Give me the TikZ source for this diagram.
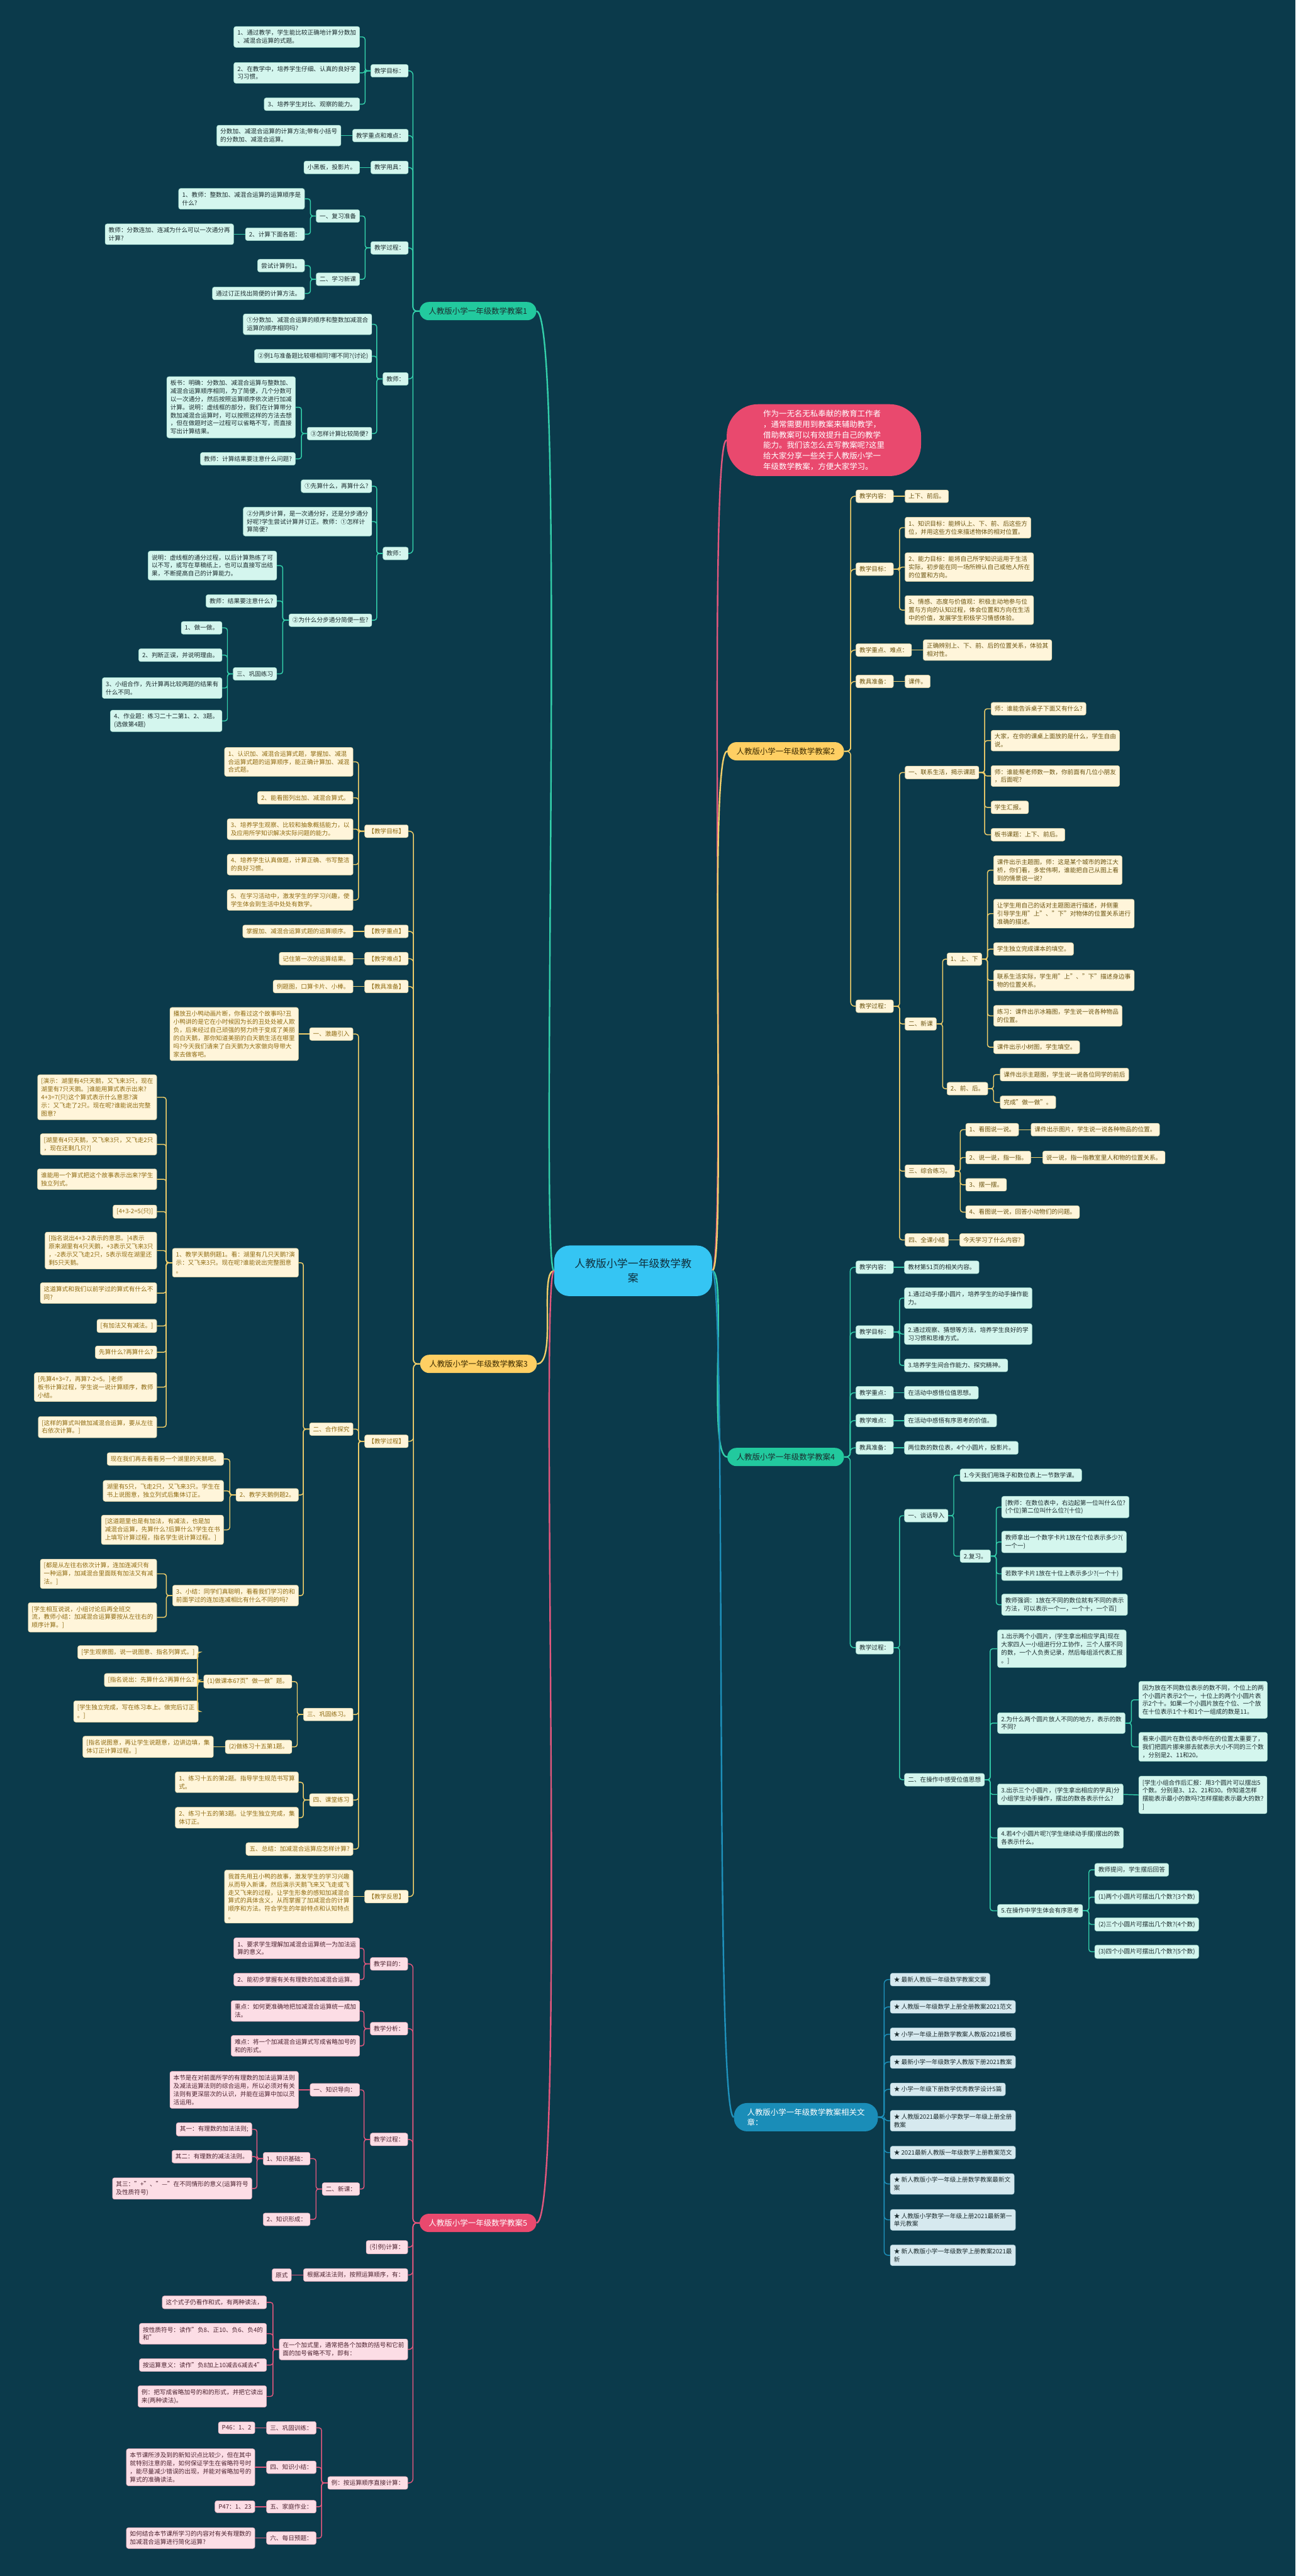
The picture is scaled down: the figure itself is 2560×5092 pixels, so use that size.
\documentclass[tikz,border=0pt]{standalone}
\usepackage{fontspec}
\setmainfont{Noto Sans CJK SC}
\definecolor{bgcol}{HTML}{0B3A4B}
\definecolor{tealline}{HTML}{33CFAA}
\definecolor{tealmain}{HTML}{22C99E}
\definecolor{mint}{HTML}{D4F6EE}
\definecolor{mintedge}{HTML}{9FDCCB}
\definecolor{inkdark}{HTML}{1B2B2E}
\definecolor{yellowline}{HTML}{F0CE6A}
\definecolor{yellowmain}{HTML}{FFCF63}
\definecolor{brownmain}{HTML}{3B2A00}
\definecolor{cream}{HTML}{FFF5DA}
\definecolor{creamedge}{HTML}{E6D39E}
\definecolor{goldtext}{HTML}{8F6B12}
\definecolor{browntext}{HTML}{6B5410}
\definecolor{pinkline}{HTML}{E2577D}
\definecolor{pinkmain}{HTML}{E9496E}
\definecolor{blush}{HTML}{FCDDE5}
\definecolor{blushedge}{HTML}{E8A6B6}
\definecolor{plumtext}{HTML}{4D2330}
\definecolor{blueline}{HTML}{1E90BA}
\definecolor{bluemain}{HTML}{1A8DB8}
\definecolor{ice}{HTML}{D6E9EF}
\definecolor{iceedge}{HTML}{A7CAD6}
\definecolor{hubfill}{HTML}{35C5F3}
\definecolor{hubtext}{HTML}{0F2F3D}
\begin{document}
\begin{tikzpicture}[x=1pt, y=-1pt,
    box/.style={rounded corners=4pt, inner xsep=7pt, inner ysep=7pt, align=left,
                line width=0.6pt, font=\fontsize{12}{16}\selectfont},
    tl/.style={box, fill=mint, draw=mintedge, text=inkdark, anchor=east},
    tr/.style={box, fill=mint, draw=mintedge, text=inkdark, anchor=west},
    yl/.style={box, fill=cream, draw=creamedge, text=goldtext, anchor=east},
    yr/.style={box, fill=cream, draw=creamedge, text=browntext, anchor=west},
    pl/.style={box, fill=blush, draw=blushedge, text=plumtext, anchor=east},
    br/.style={box, fill=ice, draw=iceedge, text=inkdark, anchor=west},
    mainnode/.style={rounded corners=18pt, minimum height=36pt, inner xsep=18pt,
                     font=\fontsize{15.5}{20}\selectfont},
    tmain/.style={mainnode, fill=tealmain, text=inkdark},
    ymain/.style={mainnode, fill=yellowmain, text=brownmain},
    pmain/.style={mainnode, fill=pinkmain, text=white},
    bmain/.style={mainnode, fill=bluemain, text=white, align=left, inner xsep=26pt,
                  rounded corners=26pt, minimum height=56pt},
    tline/.style={draw=tealline, line width=1.8pt, rounded corners=5pt},
    yline/.style={draw=yellowline, line width=1.8pt, rounded corners=5pt},
    pline/.style={draw=pinkline, line width=1.8pt, rounded corners=5pt},
    bline/.style={draw=blueline, line width=1.8pt, rounded corners=5pt},
    hubline/.style={line width=3pt},
  ]
  \fill[bgcol] (0,0) rectangle (2560,5092);
  \useasboundingbox (0,0) rectangle (2560,5092);

  % centre and intro
  \node[fill=hubfill, text=hubtext, rounded corners=30pt, minimum width=312pt,
        minimum height=100pt, align=center, font=\fontsize{21}{28}\selectfont]
        (hub) at (1251,2512) {人教版小学一年级数学教\\案};
  \node[fill=pinkmain, text=white, rounded corners=62pt, minimum width=384pt,
        minimum height=142pt, align=left, font=\fontsize{15.5}{21}\selectfont]
        (intro) at (1628,870) {作为一无名无私奉献的教育工作者\\，通常需要用到教案来辅助教学，\\借助教案可以有效提升自己的教学\\能力。我们该怎么去写教案呢?这里\\给大家分享一些关于人教版小学一\\年级数学教案，方便大家学习。};

  % ---------- 教案1 (left, teal) ----------
  \node[tmain, anchor=west] (b1) at (829,615) {人教版小学一年级数学教案1};
  \node[tl] (a1) at (807,140) {教学目标：};
  \node[tl] (a1x1) at (711,73) {1、通过教学，学生能比较正确地计算分数加\\、减混合运算的式题。};
  \node[tl] (a1x2) at (711,144) {2、在教学中，培养学生仔细、认真的良好学\\习习惯。};
  \node[tl] (a1x3) at (711,206) {3、培养学生对比、观察的能力。};
  \node[tl] (a2) at (807,268) {教学重点和难点：};
  \node[tl] (a2x1) at (674,268) {分数加、减混合运算的计算方法;带有小括号\\的分数加、减混合运算。};
  \node[tl] (a3) at (807,331) {教学用具：};
  \node[tl] (a3x1) at (711,331) {小黑板，投影片。};
  \node[tl] (a4) at (807,490) {教学过程：};
  \node[tl] (a4x1) at (711,427) {一、复习准备};
  \node[tl] (a4x1a) at (602,393) {1、教师：整数加、减混合运算的运算顺序是\\什么?};
  \node[tl] (a4x1b) at (602,463) {2、计算下面各题：};
  \node[tl] (a4x1b1) at (462,463) {教师：分数连加、连减为什么可以一次通分再\\计算?};
  \node[tl] (a4x2) at (711,552) {二、学习新课};
  \node[tl] (a4x2a) at (602,525) {尝试计算例1。};
  \node[tl] (a4x2b) at (602,580) {通过订正找出简便的计算方法。};
  \node[tl] (a5) at (807,749) {教师：};
  \node[tl] (a5x1) at (735,641) {①分数加、减混合运算的顺序和整数加减混合\\运算的顺序相同吗?};
  \node[tl] (a5x2) at (735,704) {②例1与准备题比较哪相同?哪不同?(讨论)};
  \node[tl] (a5x3) at (735,857) {③怎样计算比较简便?};
  \node[tl] (a5x3a) at (584,805) {板书：明确：分数加、减混合运算与整数加、\\减混合运算顺序相同，为了简便，几个分数可\\以一次通分，然后按照运算顺序依次进行加减\\计算。说明：虚线框的部分，我们在计算带分\\数加减混合运算时，可以按照这样的方法去想\\，但在做题时这一过程可以省略不写，而直接\\写出计算结果。};
  \node[tl] (a5x3b) at (584,907) {教师：计算结果要注意什么问题?};
  \node[tl] (a6) at (807,1094) {教师：};
  \node[tl] (a6x1) at (735,961) {①先算什么，再算什么?};
  \node[tl] (a6x2) at (735,1031) {②分两步计算，是一次通分好，还是分步通分\\好呢?学生尝试计算并订正。教师：①怎样计\\算简便?};
  \node[tl] (a6x3) at (735,1226) {②为什么分步通分简便一些?};
  \node[tl] (a6x3a) at (547,1118) {说明：虚线框的通分过程，以后计算熟练了可\\以不写，或写在草稿纸上，也可以直接写出结\\果，不断提高自己的计算能力。};
  \node[tl] (a6x3b) at (547,1188) {教师：结果要注意什么?};
  \node[tl] (a6x3c) at (547,1332) {三、巩固练习};
  \node[tl] (a6x3c1) at (439,1241) {1、做一做。};
  \node[tl] (a6x3c2) at (439,1295) {2、判断正误，并说明理由。};
  \node[tl] (a6x3c3) at (439,1360) {3、小组合作，先计算再比较两题的结果有\\什么不同。};
  \node[tl] (a6x3c4) at (439,1425) {4、作业题：练习二十二第1、2、3题。\\(选做第4题)};

  % ---------- 教案3 (left, yellow) ----------
  \node[ymain, anchor=west] (b3) at (830,2696) {人教版小学一年级数学教案3};
  \node[yl] (c1) at (807,1643) {【教学目标】};
  \node[yl] (c1x1) at (698,1506) {1、认识加、减混合运算式题，掌握加、减混\\合运算式题的运算顺序，能正确计算加、减混\\合式题。};
  \node[yl] (c1x2) at (698,1577) {2、能看图列出加、减混合算式。};
  \node[yl] (c1x3) at (698,1639) {3、培养学生观察、比较和抽象概括能力，以\\及应用所学知识解决实际问题的能力。};
  \node[yl] (c1x4) at (698,1709) {4、培养学生认真做题，计算正确、书写整洁\\的良好习惯。};
  \node[yl] (c1x5) at (698,1779) {5、在学习活动中，激发学生的学习兴趣，使\\学生体会到生活中处处有数学。};
  \node[yl] (c2) at (807,1841) {【教学重点】};
  \node[yl] (c2x1) at (698,1841) {掌握加、减混合运算式题的运算顺序。};
  \node[yl] (c3) at (807,1895) {【教学难点】};
  \node[yl] (c3x1) at (698,1895) {记住第一次的运算结果。};
  \node[yl] (c4) at (807,1950) {【教具准备】};
  \node[yl] (c4x1) at (698,1950) {例题图，口算卡片、小棒。};
  \node[yl] (c5) at (807,2849) {【教学过程】};
  \node[yl] (c5x1) at (698,2044) {一、激趣引入};
  \node[yl] (c5x1a) at (590,2044) {播放丑小鸭动画片断，你看过这个故事吗?丑\\小鸭讲的是它在小时候因为长的丑处处被人欺\\负，后来经过自己顽强的努力终于变成了美丽\\的白天鹅，那你知道美丽的白天鹅生活在哪里\\吗?今天我们请来了白天鹅为大家做向导带大\\家去做客吧。};
  \node[yl] (c5x2) at (698,2825) {二、合作探究};
  \node[yl] (c5x2a) at (590,2496) {1、教学天鹅例题1。看：湖里有几只天鹅?演\\示：又飞来3只。现在呢?谁能说出完整图意\\。};
  \node[yl] (l1) at (310,2169) {[演示：湖里有4只天鹅，又飞来3只，现在\\湖里有7只天鹅。]谁能用算式表示出来?\\4+3=7(只)这个算式表示什么意思?演\\示：又飞走了2只。现在呢?谁能说出完整\\图意?};
  \node[yl] (l2) at (310,2262) {[湖里有4只天鹅，又飞来3只，又飞走2只\\，现在还剩几只?]};
  \node[yl] (l3) at (310,2331) {谁能用一个算式把这个故事表示出来?学生\\独立列式。};
  \node[yl] (l4) at (310,2395) {[4+3-2=5(只)]};
  \node[yl] (l5) at (310,2472) {[指名说出4+3-2表示的意思。]4表示\\原来湖里有4只天鹅，+3表示又飞来3只\\，-2表示又飞走2只，5表示现在湖里还\\剩5只天鹅。};
  \node[yl] (l6) at (310,2556) {这道算式和我们以前学过的算式有什么不\\同?};
  \node[yl] (l7) at (310,2621) {[有加法又有减法。]};
  \node[yl] (l8) at (310,2673) {先算什么?再算什么?};
  \node[yl] (l9) at (310,2742) {[先算4+3=7，再算7-2=5。]老师\\板书计算过程，学生说一说计算顺序，教师\\小结。};
  \node[yl] (l10) at (310,2821) {[这样的算式叫做加减混合运算，要从左往\\右依次计算。]};
  \node[yl] (c5x2b) at (590,2955) {2、教学天鹅例题2。};
  \node[yl] (m1) at (442,2884) {现在我们再去看看另一个湖里的天鹅吧。};
  \node[yl] (m2) at (442,2947) {湖里有5只，飞走2只，又飞来3只。学生在\\书上说图意，独立列式后集体订正。};
  \node[yl] (m3) at (442,3024) {[这道题里也是有加法，有减法，也是加\\减混合运算，先算什么?后算什么?学生在书\\上填写计算过程，指名学生说计算过程。]};
  \node[yl] (c5x2c) at (590,3154) {3、小结：同学们真聪明，看看我们学习的和\\前面学过的连加连减相比有什么不同的吗?};
  \node[yl] (n1) at (310,3111) {[都是从左往右依次计算，连加连减只有\\一种运算，加减混合里面既有加法又有减\\法。]};
  \node[yl] (n2) at (310,3197) {[学生相互说说，小组讨论后再全班交\\流，教师小结：加减混合运算要按从左往右的\\顺序计算。]};
  \node[yl] (c5x3) at (698,3389) {三、巩固练习。};
  \node[yl] (c5x3a) at (577,3324) {(1)做课本67页"做一做"题。};
  \node[yl] (p1) at (392,3266) {[学生观察图，说一说图意、指名列算式。]};
  \node[yl] (p2) at (392,3321) {[指名说出：先算什么?再算什么?};
  \node[yl] (p3) at (392,3383) {[学生独立完成，写在练习本上。做完后订正\\。]};
  \node[yl] (c5x3b) at (577,3453) {(2)做练习十五第1题。};
  \node[yl] (q1) at (422,3453) {[指名说图意，再让学生说题意，边讲边填，集\\体订正计算过程。]};
  \node[yl] (c5x4) at (698,3558) {四、课堂练习};
  \node[yl] (c5x4a) at (590,3523) {1、练习十五的第2题。指导学生规范书写算\\式。};
  \node[yl] (c5x4b) at (590,3593) {2、练习十五的第3题。让学生独立完成，集\\体订正。};
  \node[yl] (c5x5) at (698,3655) {五、总结：加减混合运算应怎样计算?};
  \node[yl] (c6) at (807,3749) {【教学反思】};
  \node[yl] (c6x1) at (698,3749) {我首先用丑小鸭的故事，激发学生的学习兴趣\\从而导入新课，然后演示天鹅飞来又飞走或飞\\走又飞来的过程，让学生形象的感知加减混合\\算式的具体含义，从而掌握了加减混合的计算\\顺序和方法。符合学生的年龄特点和认知特点\\。};

  % ---------- 教案5 (left, pink) ----------
  \node[pmain, anchor=west] (b5) at (829,4394) {人教版小学一年级数学教案5};
  \node[pl] (d1) at (806,3882) {教学目的：};
  \node[pl] (d1x1) at (711,3851) {1、要求学生理解加减混合运算统一为加法运\\算的意义。};
  \node[pl] (d1x2) at (711,3913) {2、能初步掌握有关有理数的加减混合运算。};
  \node[pl] (d2) at (806,4010) {教学分析：};
  \node[pl] (d2x1) at (711,3975) {重点：如何更准确地把加减混合运算统一成加\\法。};
  \node[pl] (d2x2) at (711,4044) {难点：将一个加减混合运算式写成省略加号的\\和的形式。};
  \node[pl] (d3) at (806,4229) {教学过程：};
  \node[pl] (d3x1) at (711,4131) {一、知识导向：};
  \node[pl] (d3x1a) at (590,4131) {本节是在对前面所学的有理数的加法运算法则\\及减法运算法则的综合运用，所以必须对有关\\法则有更深层次的认识，并能在运算中加以灵\\活运用。};
  \node[pl] (d3x2) at (711,4327) {二、新课：};
  \node[pl] (d3x2a) at (613,4267) {1、知识基础：};
  \node[pl] (d3x2a1) at (498,4209) {其一：有理数的加法法则;};
  \node[pl] (d3x2a2) at (498,4263) {其二：有理数的减法法则。};
  \node[pl] (d3x2a3) at (498,4326) {其三："+"、"—"在不同情形的意义(运算符号\\及性质符号)};
  \node[pl] (d3x2b) at (613,4387) {2、知识形成：};
  \node[pl] (d4) at (806,4442) {(引例)计算：};
  \node[pl] (d5) at (806,4497) {根据减法法则，按照运算顺序，有：};
  \node[pl] (d5x1) at (576,4497) {原式};
  \node[pl] (d6) at (806,4644) {在一个加式里，通常把各个加数的括号和它前\\面的加号省略不写，即有：};
  \node[pl] (d6x1) at (527,4551) {这个式子仍看作和式，有两种读法，};
  \node[pl] (d6x2) at (527,4613) {按性质符号：读作"负8、正10、负6、负4的\\和"};
  \node[pl] (d6x3) at (527,4675) {按运算意义：读作"负8加上10减去6减去4"};
  \node[pl] (d6x4) at (527,4737) {例：把写成省略加号的和的形式，并把它读出\\来(两种读法)。};
  \node[pl] (d7) at (806,4908) {例：按运算顺序直接计算：};
  \node[pl] (d7x1) at (625,4799) {三、巩固训练：};
  \node[pl] (d7x1a) at (504,4799) {P46：1、2};
  \node[pl] (d7x2) at (625,4877) {四、知识小结：};
  \node[pl] (d7x2a) at (504,4877) {本节课所涉及到的新知识点比较少，但在其中\\就特别注意的是，如何保证学生在省略符号时\\，能尽量减少错误的出现，并能对省略加号的\\算式的准确读法。};
  \node[pl] (d7x3) at (625,4955) {五、家庭作业：};
  \node[pl] (d7x3a) at (504,4955) {P47：1、23};
  \node[pl] (d7x4) at (625,5017) {六、每日预题：};
  \node[pl] (d7x4a) at (504,5017) {如何结合本节课所学习的内容对有关有理数的\\加减混合运算进行简化运算?};

  % ---------- 教案2 (right, yellow) ----------
  \node[ymain, anchor=east] (b2) at (1668,1485) {人教版小学一年级数学教案2};
  \node[yr] (e1) at (1691,981) {教学内容：};
  \node[yr] (e1x1) at (1788,981) {上下、前后。};
  \node[yr] (e2) at (1691,1125) {教学目标：};
  \node[yr] (e2x1) at (1788,1043) {1、知识目标：能辨认上、下、前、后这些方\\位，并用这些方位来描述物体的相对位置。};
  \node[yr] (e2x2) at (1788,1121) {2、能力目标：能将自己所学知识运用于生活\\实际，初步能在同一场所辨认自己或他人所在\\的位置和方向。};
  \node[yr] (e2x3) at (1788,1206) {3、情感、态度与价值观：积极主动地参与位\\置与方向的认知过程，体会位置和方向在生活\\中的价值，发展学生积极学习情感体验。};
  \node[yr] (e3) at (1691,1285) {教学重点、难点：};
  \node[yr] (e3x1) at (1824,1285) {正确辨别上、下、前、后的位置关系，体验其\\相对性。};
  \node[yr] (e4) at (1691,1347) {教具准备：};
  \node[yr] (e4x1) at (1788,1347) {课件。};
  \node[yr] (e5) at (1691,1989) {教学过程：};
  \node[yr] (e5x1) at (1788,1527) {一、联系生活，揭示课题};
  \node[yr] (e5x1a) at (1958,1401) {师：谁能告诉桌子下面又有什么?};
  \node[yr] (e5x1b) at (1958,1464) {大家，在你的课桌上面放的是什么，学生自由\\说。};
  \node[yr] (e5x1c) at (1958,1534) {师：谁能帮老师数一数，你前面有几位小朋友\\，后面呢?};
  \node[yr] (e5x1d) at (1958,1596) {学生汇报。};
  \node[yr] (e5x1e) at (1958,1650) {板书课题：上下、前后。};
  \node[yr] (e5x2) at (1788,2024) {二、新课};
  \node[yr] (e5x2a) at (1871,1896) {1、上、下};
  \node[yr] (e5x2a1) at (1963,1720) {课件出示主题图，师：这是某个城市的跨江大\\桥，你们看，多宏伟啊，谁能把自己从图上看\\到的情景说一说?};
  \node[yr] (e5x2a2) at (1963,1806) {让学生用自己的话对主题图进行描述，并侧重\\引导学生用"上"、"下"对物体的位置关系进行\\准确的描述。};
  \node[yr] (e5x2a3) at (1963,1876) {学生独立完成课本的填空。};
  \node[yr] (e5x2a4) at (1963,1938) {联系生活实际，学生用"上"、"下"描述身边事\\物的位置关系。};
  \node[yr] (e5x2a5) at (1963,2008) {练习：课件出示冰箱图，学生说一说各种物品\\的位置。};
  \node[yr] (e5x2a6) at (1963,2070) {课件出示小树图，学生填空。};
  \node[yr] (e5x2b) at (1871,2152) {2、前、后。};
  \node[yr] (e5x2b1) at (1976,2124) {课件出示主题图，学生说一说各位同学的前后};
  \node[yr] (e5x2b2) at (1976,2179) {完成"做一做"。};
  \node[yr] (e5x3) at (1788,2315) {三、综合练习。};
  \node[yr] (e5x3a) at (1908,2233) {1、看图说一说。};
  \node[yr] (e5x3a1) at (2037,2233) {课件出示图片，学生说一说各种物品的位置。};
  \node[yr] (e5x3b) at (1908,2288) {2、说一说，指一指。};
  \node[yr] (e5x3b1) at (2060,2288) {说一说，指一指教室里人和物的位置关系。};
  \node[yr] (e5x3c) at (1908,2342) {3、摆一摆。};
  \node[yr] (e5x3d) at (1908,2396) {4、看图说一说，回答小动物们的问题。};
  \node[yr] (e5x4) at (1788,2451) {四、全课小结};
  \node[yr] (e5x4a) at (1896,2451) {今天学习了什么内容?};

  % ---------- 教案4 (right, teal) ----------
  \node[tmain, anchor=east] (b4) at (1668,2880) {人教版小学一年级数学教案4};
  \node[tr] (f1) at (1691,2505) {教学内容：};
  \node[tr] (f1x1) at (1787,2505) {教材第51页的相关内容。};
  \node[tr] (f2) at (1691,2633) {教学目标：};
  \node[tr] (f2x1) at (1787,2566) {1.通过动手摆小圆片，培养学生的动手操作能\\力。};
  \node[tr] (f2x2) at (1787,2637) {2.通过观察、猜想等方法，培养学生良好的学\\习习惯和思维方式。};
  \node[tr] (f2x3) at (1787,2699) {3.培养学生间合作能力、探究精神。};
  \node[tr] (f3) at (1691,2753) {教学重点：};
  \node[tr] (f3x1) at (1787,2753) {在活动中感悟位值思想。};
  \node[tr] (f4) at (1691,2808) {教学难点：};
  \node[tr] (f4x1) at (1787,2808) {在活动中感悟有序思考的价值。};
  \node[tr] (f5) at (1691,2862) {教具准备：};
  \node[tr] (f5x1) at (1787,2862) {两位数的数位表，4个小圆片，投影片。};
  \node[tr] (f6) at (1691,3257) {教学过程：};
  \node[tr] (f6x1) at (1787,2996) {一、谈话导入};
  \node[tr] (f6x1a) at (1897,2916) {1.今天我们用珠子和数位表上一节数学课。};
  \node[tr] (f6x1b) at (1897,3076) {2.复习。};
  \node[tr] (f6x1b1) at (1979,2979) {[教师：在数位表中，右边起第一位叫什么位?\\(个位)第二位叫什么位?(十位)};
  \node[tr] (f6x1b2) at (1979,3048) {教师拿出一个数字卡片1放在个位表示多少?(\\一个一)};
  \node[tr] (f6x1b3) at (1979,3111) {若数字卡片1放在十位上表示多少?(一个十)};
  \node[tr] (f6x1b4) at (1979,3172) {教师强调：1放在不同的数位就有不同的表示\\方法，可以表示一个一，一个十，一个百]};
  \node[tr] (f6x2) at (1787,3518) {二、在操作中感受位值思想};
  \node[tr] (f6x2a) at (1971,3259) {1.出示两个小圆片，(学生拿出相应学具)现在\\大家四人一小组进行分工协作，三个人摆不同\\的数，一个人负责记录，然后每组派代表汇报\\。]};
  \node[tr] (f6x2b) at (1971,3406) {2.为什么两个圆片放人不同的地方，表示的数\\不同?};
  \node[tr] (f6x2b1) at (2250,3360) {因为放在不同数位表示的数不同，个位上的两\\个小圆片表示2个一，十位上的两个小圆片表\\示2个十。如果一个小圆片放在个位、一个放\\在十位表示1个十和1个一组成的数是11。};
  \node[tr] (f6x2b2) at (2250,3453) {看来小圆片在数位表中所在的位置太重要了，\\我们把圆片挪来挪去就表示大小不同的三个数\\，分别是2、11和20。};
  \node[tr] (f6x2c) at (1971,3547) {3.出示三个小圆片，(学生拿出相应的学具)分\\小组学生动手操作，摆出的数各表示什么?};
  \node[tr] (f6x2c1) at (2250,3548) {[学生小组合作后汇报：用3个圆片可以摆出5\\个数。分别是3、12、21和30。你知道怎样\\摆能表示最小的数吗?怎样摆能表示最大的数?\\]};
  \node[tr] (f6x2d) at (1971,3633) {4.若4个小圆片呢?(学生继续动手摆)摆出的数\\各表示什么。};
  \node[tr] (f6x2e) at (1971,3777) {5.在操作中学生体会有序思考};
  \node[tr] (f6x2e1) at (2163,3696) {教师提问，学生摆后回答};
  \node[tr] (f6x2e2) at (2163,3750) {(1)两个小圆片可摆出几个数?(3个数)};
  \node[tr] (f6x2e3) at (2163,3804) {(2)三个小圆片可摆出几个数?(4个数)};
  \node[tr] (f6x2e4) at (2163,3858) {(3)四个小圆片可摆出几个数?(5个数)};

  % ---------- related articles (right, blue) ----------
  \node[bmain, anchor=east] (rel) at (1735,4185) {人教版小学一年级数学教案相关文\\章：};
  \node[br] (g1) at (1759,3913) {★ 最新人教版一年级数学教案文案};
  \node[br] (g2) at (1759,3967) {★ 人教版一年级数学上册全册教案2021范文};
  \node[br] (g3) at (1759,4021) {★ 小学一年级上册数学教案人教版2021模板};
  \node[br] (g4) at (1759,4076) {★ 最新小学一年级数学人教版下册2021教案};
  \node[br] (g5) at (1759,4130) {★ 小学一年级下册数学优秀教学设计5篇};
  \node[br] (g6) at (1759,4192) {★ 人教版2021最新小学数学一年级上册全册\\教案};
  \node[br] (g7) at (1759,4255) {★ 2021最新人教版一年级数学上册教案范文};
  \node[br] (g8) at (1759,4317) {★ 新人教版小学一年级上册数学教案最新文\\案};
  \node[br] (g9) at (1759,4388) {★ 人教版小学数学一年级上册2021最新第一\\单元教案};
  \node[br] (g10) at (1759,4458) {★ 新人教版小学一年级数学上册教案2021最\\新};

  % ---------- connectors from the centre ----------
  \draw[hubline, tealline] (hub.west) .. controls +(-30,0) and +(60,0) .. (b1.east);
  \draw[hubline, yellowline] (hub.west) .. controls +(-30,0) and +(40,0) .. (b3.east);
  \draw[hubline, pinkline] (hub.west) .. controls +(-30,0) and +(60,0) .. (b5.east);
  \draw[hubline, pinkline] (hub.east) .. controls +(30,0) and +(-40,0) .. (intro.west);
  \draw[hubline, yellowline] (hub.east) .. controls +(30,0) and +(-40,0) .. (b2.west);
  \draw[hubline, tealline] (hub.east) .. controls +(30,0) and +(-40,0) .. (b4.west);
  \draw[hubline, blueline] (hub.east) .. controls +(30,0) and +(-40,0) .. (rel.west);

  % ---------- connectors, 教案1 ----------
  \foreach \k in {a1,a2,a3,a4,a5,a6}
    \draw[tline, rounded corners=8pt] (b1.west) -- ++(-13,0) |- (\k.east);
  \foreach \k in {a1x1,a1x2,a1x3}
    \draw[tline] (a1.west) -- ++(-11,0) |- (\k.east);
  \draw[tline] (a2.west) -- (a2x1.east);
  \draw[tline] (a3.west) -- (a3x1.east);
  \foreach \k in {a4x1,a4x2}
    \draw[tline] (a4.west) -- ++(-11,0) |- (\k.east);
  \foreach \k in {a4x1a,a4x1b}
    \draw[tline] (a4x1.west) -- ++(-11,0) |- (\k.east);
  \draw[tline] (a4x1b.west) -- (a4x1b1.east);
  \foreach \k in {a4x2a,a4x2b}
    \draw[tline] (a4x2.west) -- ++(-11,0) |- (\k.east);
  \foreach \k in {a5x1,a5x2,a5x3}
    \draw[tline] (a5.west) -- ++(-12,0) |- (\k.east);
  \foreach \k in {a5x3a,a5x3b}
    \draw[tline] (a5x3.west) -- ++(-11,0) |- (\k.east);
  \foreach \k in {a6x1,a6x2,a6x3}
    \draw[tline] (a6.west) -- ++(-12,0) |- (\k.east);
  \foreach \k in {a6x3a,a6x3b,a6x3c}
    \draw[tline] (a6x3.west) -- ++(-12,0) |- (\k.east);
  \foreach \k in {a6x3c1,a6x3c2,a6x3c3,a6x3c4}
    \draw[tline] (a6x3c.west) -- ++(-11,0) |- (\k.east);

  % ---------- connectors, 教案3 ----------
  \foreach \k in {c1,c2,c3,c4,c5,c6}
    \draw[yline, rounded corners=8pt] (b3.west) -- ++(-13,0) |- (\k.east);
  \foreach \k in {c1x1,c1x2,c1x3,c1x4,c1x5}
    \draw[yline] (c1.west) -- ++(-12,0) |- (\k.east);
  \draw[yline] (c2.west) -- (c2x1.east);
  \draw[yline] (c3.west) -- (c3x1.east);
  \draw[yline] (c4.west) -- (c4x1.east);
  \draw[yline] (c6.west) -- (c6x1.east);
  \foreach \k in {c5x1,c5x2,c5x3,c5x4,c5x5}
    \draw[yline] (c5.west) -- ++(-12,0) |- (\k.east);
  \draw[yline] (c5x1.west) -- (c5x1a.east);
  \foreach \k in {c5x2a,c5x2b,c5x2c}
    \draw[yline] (c5x2.west) -- ++(-12,0) |- (\k.east);
  \foreach \k in {l1,l2,l3,l4,l5,l6,l7,l8,l9,l10}
    \draw[yline] (c5x2a.west) -- ++(-12,0) |- (\k.east);
  \foreach \k in {m1,m2,m3}
    \draw[yline] (c5x2b.west) -- ++(-12,0) |- (\k.east);
  \foreach \k in {n1,n2}
    \draw[yline] (c5x2c.west) -- ++(-12,0) |- (\k.east);
  \foreach \k in {c5x3a,c5x3b}
    \draw[yline] (c5x3.west) -- ++(-12,0) |- (\k.east);
  \foreach \k in {p1,p2,p3}
    \draw[yline] (c5x3a.west) -- ++(-12,0) |- (\k.east);
  \draw[yline] (c5x3b.west) -- (q1.east);
  \foreach \k in {c5x4a,c5x4b}
    \draw[yline] (c5x4.west) -- ++(-12,0) |- (\k.east);

  % ---------- connectors, 教案5 ----------
  \foreach \k in {d1,d2,d3,d4,d5,d6,d7}
    \draw[pline, rounded corners=8pt] (b5.west) -- ++(-13,0) |- (\k.east);
  \foreach \k in {d1x1,d1x2}
    \draw[pline] (d1.west) -- ++(-12,0) |- (\k.east);
  \foreach \k in {d2x1,d2x2}
    \draw[pline] (d2.west) -- ++(-12,0) |- (\k.east);
  \foreach \k in {d3x1,d3x2}
    \draw[pline] (d3.west) -- ++(-12,0) |- (\k.east);
  \draw[pline] (d3x1.west) -- (d3x1a.east);
  \foreach \k in {d3x2a,d3x2b}
    \draw[pline] (d3x2.west) -- ++(-12,0) |- (\k.east);
  \foreach \k in {d3x2a1,d3x2a2,d3x2a3}
    \draw[pline] (d3x2a.west) -- ++(-12,0) |- (\k.east);
  \draw[pline] (d5.west) -- (d5x1.east);
  \foreach \k in {d6x1,d6x2,d6x3,d6x4}
    \draw[pline] (d6.west) -- ++(-12,0) |- (\k.east);
  \foreach \k in {d7x1,d7x2,d7x3,d7x4}
    \draw[pline] (d7.west) -- ++(-12,0) |- (\k.east);
  \draw[pline] (d7x1.west) -- (d7x1a.east);
  \draw[pline] (d7x2.west) -- (d7x2a.east);
  \draw[pline] (d7x3.west) -- (d7x3a.east);
  \draw[pline] (d7x4.west) -- (d7x4a.east);

  % ---------- connectors, 教案2 ----------
  \foreach \k in {e1,e2,e3,e4,e5}
    \draw[yline, rounded corners=8pt] (b2.east) -- ++(13,0) |- (\k.west);
  \draw[yline] (e1.east) -- (e1x1.west);
  \foreach \k in {e2x1,e2x2,e2x3}
    \draw[yline] (e2.east) -- ++(12,0) |- (\k.west);
  \draw[yline] (e3.east) -- (e3x1.west);
  \draw[yline] (e4.east) -- (e4x1.west);
  \foreach \k in {e5x1,e5x2,e5x3,e5x4}
    \draw[yline] (e5.east) -- ++(12,0) |- (\k.west);
  \foreach \k in {e5x1a,e5x1b,e5x1c,e5x1d,e5x1e}
    \draw[yline] (e5x1.east) -- ++(11,0) |- (\k.west);
  \foreach \k in {e5x2a,e5x2b}
    \draw[yline] (e5x2.east) -- ++(12,0) |- (\k.west);
  \foreach \k in {e5x2a1,e5x2a2,e5x2a3,e5x2a4,e5x2a5,e5x2a6}
    \draw[yline] (e5x2a.east) -- ++(11,0) |- (\k.west);
  \foreach \k in {e5x2b1,e5x2b2}
    \draw[yline] (e5x2b.east) -- ++(11,0) |- (\k.west);
  \foreach \k in {e5x3a,e5x3b,e5x3c,e5x3d}
    \draw[yline] (e5x3.east) -- ++(11,0) |- (\k.west);
  \draw[yline] (e5x3a.east) -- (e5x3a1.west);
  \draw[yline] (e5x3b.east) -- (e5x3b1.west);
  \draw[yline] (e5x4.east) -- (e5x4a.west);

  % ---------- connectors, 教案4 ----------
  \foreach \k in {f1,f2,f3,f4,f5,f6}
    \draw[tline, rounded corners=8pt] (b4.east) -- ++(12,0) |- (\k.west);
  \draw[tline] (f1.east) -- (f1x1.west);
  \foreach \k in {f2x1,f2x2,f2x3}
    \draw[tline] (f2.east) -- ++(12,0) |- (\k.west);
  \draw[tline] (f3.east) -- (f3x1.west);
  \draw[tline] (f4.east) -- (f4x1.west);
  \draw[tline] (f5.east) -- (f5x1.west);
  \foreach \k in {f6x1,f6x2}
    \draw[tline] (f6.east) -- ++(12,0) |- (\k.west);
  \foreach \k in {f6x1a,f6x1b}
    \draw[tline] (f6x1.east) -- ++(11,0) |- (\k.west);
  \foreach \k in {f6x1b1,f6x1b2,f6x1b3,f6x1b4}
    \draw[tline] (f6x1b.east) -- ++(11,0) |- (\k.west);
  \foreach \k in {f6x2a,f6x2b,f6x2c,f6x2d,f6x2e}
    \draw[tline] (f6x2.east) -- ++(11,0) |- (\k.west);
  \foreach \k in {f6x2b1,f6x2b2}
    \draw[tline] (f6x2b.east) -- ++(12,0) |- (\k.west);
  \draw[tline] (f6x2c.east) -- (f6x2c1.west);
  \foreach \k in {f6x2e1,f6x2e2,f6x2e3,f6x2e4}
    \draw[tline] (f6x2e.east) -- ++(12,0) |- (\k.west);

  % ---------- connectors, related articles ----------
  \foreach \k in {g1,g2,g3,g4,g5,g6,g7,g8,g9,g10}
    \draw[bline, rounded corners=8pt] (rel.east) -- ++(12,0) |- (\k.west);
\end{tikzpicture}
\end{document}
